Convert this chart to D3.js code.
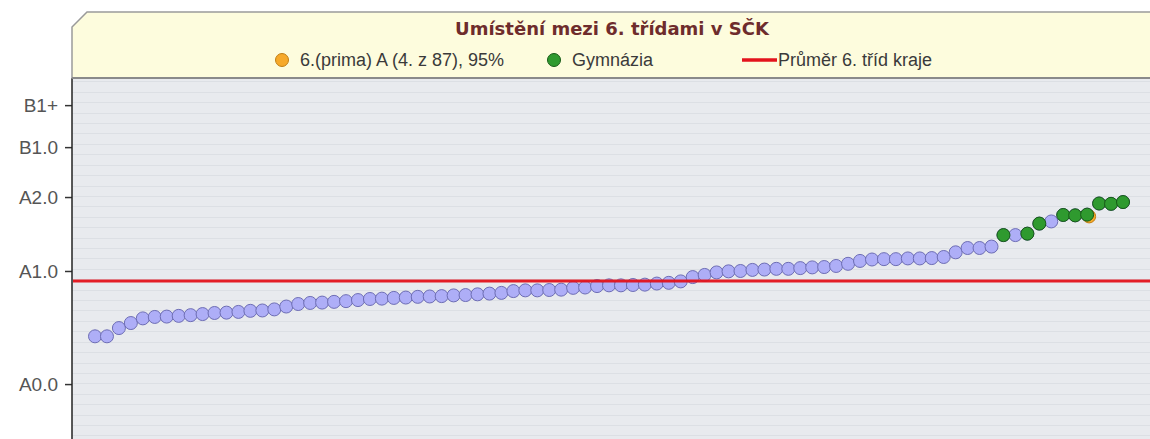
<!DOCTYPE html>
<html>
<head>
<meta charset="utf-8">
<script src="https://cdn.jsdelivr.net/npm/d3@7"></script>
<style>
  body { margin: 0; background: #fff; }
  svg { display: block; font-family: "Liberation Sans", Arial, sans-serif; }
</style>
</head>
<body>
<svg id="chart"></svg>
<script>
// scores of all 87 classes, sorted ascending (rank 87 .. 1)
var classScores = [
  28.6, 28.6, 30.9, 32.3, 33.6, 34.0, 34.1, 34.3, 34.5, 34.8,
  35.1, 35.2, 35.4, 35.7, 35.8, 36.1, 36.9, 37.6, 37.9, 38.0,
  38.2, 38.4, 38.7, 39.0, 39.1, 39.3, 39.4, 39.6, 39.7, 39.8,
  40.0, 40.1, 40.3, 40.5, 40.7, 41.2, 41.4, 41.4, 41.5, 41.6,
  42.1, 42.2, 42.6, 42.8, 42.8, 42.9, 43.0, 43.3, 43.5, 43.9,
  45.1, 45.7, 46.4, 46.7, 46.8, 47.1, 47.2, 47.4, 47.4, 47.6,
  47.8, 47.9, 48.2, 48.8, 49.6, 50.0, 50.1, 50.1, 50.3, 50.3,
  50.4, 50.7, 52.0, 53.2, 53.2, 53.6, 56.8, 56.8, 57.2, 60.0,
  60.6, 62.4, 62.3, 62.5, 65.6, 65.5, 66.0
];

// positions (in sorted order) of classes that are gymnázia
var gymIndex = [76, 78, 79, 81, 82, 83, 84, 85, 86];

// own class: 6.(prima) A, 4th of 87
var ownClass = { index: 83, score: 62.0 };

var regionAverage = 44.0;

var tickValues = [15.3, 46.8, 67.4, 81.3, 93.0];
var tickLabels = ["A0.0", "A1.0", "A2.0", "B1.0", "B1+"];

var titleText = "Umístění mezi 6. třídami v SČK";
var legendLabels = ["6.(prima) A (4. z 87), 95%", "Gymnázia", "Průměr 6. tříd kraje"];

var width = 1150, height = 439;
var plot = { left: 72, right: 1150, top: 78, bottom: 439 };

var lavender = "#aeaef7", lavenderStroke = "#6d6db4";
var green = "#2f9a2f", greenStroke = "#175a17";
var orange = "#f6a92a", orangeStroke = "#c07e14";
var red = "#e3131c";

var svg = d3.select("#chart").attr("width", width).attr("height", height);

var x = d3.scaleLinear()
  .domain([0, classScores.length - 1])
  .range([95, 1123]);

var y = d3.scaleLinear()
  .domain([0, 100])
  .range([plot.bottom, plot.top + 2]);

// plot background
svg.append("rect")
  .attr("x", plot.left)
  .attr("y", plot.top)
  .attr("width", plot.right - plot.left)
  .attr("height", plot.bottom - plot.top)
  .attr("fill", "#e8eaee");

// faint grid
var gridVals = d3.range(1, 100, 2.9);
svg.append("g")
  .selectAll("line")
  .data(gridVals)
  .enter()
  .append("line")
  .attr("x1", plot.left)
  .attr("x2", plot.right)
  .attr("y1", (d) => Math.round(y(d)) + 0.5)
  .attr("y2", (d) => Math.round(y(d)) + 0.5)
  .attr("stroke", "#dcdfe4")
  .attr("stroke-width", 1);

// y axis
var yAxis = d3.axisLeft(y)
  .tickValues(tickValues)
  .tickFormat((d, i) => tickLabels[i])
  .tickSize(7)
  .tickPadding(7);

var axisG = svg.append("g")
  .attr("transform", "translate(" + plot.left + ",0)")
  .call(yAxis);
axisG.select(".domain").remove();
axisG.selectAll(".tick line").attr("stroke", "#333").attr("stroke-width", 1.5);
axisG.selectAll(".tick text")
  .attr("fill", "#555")
  .style("font-size", "19px")
  .style("font-family", "Liberation Sans, Arial, sans-serif");
svg.append("line")
  .attr("x1", plot.left).attr("x2", plot.left)
  .attr("y1", plot.top).attr("y2", plot.bottom)
  .attr("stroke", "#222").attr("stroke-width", 1.5);

// all classes
svg.append("g")
  .selectAll("circle")
  .data(classScores)
  .enter()
  .append("circle")
  .attr("cx", (d, i) => x(i))
  .attr("cy", (d) => y(d))
  .attr("r", 6.5)
  .attr("fill", lavender)
  .attr("stroke", lavenderStroke)
  .attr("stroke-width", 1);

// own class
svg.append("circle")
  .attr("cx", x(ownClass.index) + 2)
  .attr("cy", y(ownClass.score))
  .attr("r", 6.5)
  .attr("fill", orange)
  .attr("stroke", orangeStroke)
  .attr("stroke-width", 1);

// gymnázia
svg.append("g")
  .selectAll("circle")
  .data(gymIndex)
  .enter()
  .append("circle")
  .attr("cx", (d) => x(d))
  .attr("cy", (d) => y(classScores[d]))
  .attr("r", 6.5)
  .attr("fill", green)
  .attr("stroke", greenStroke)
  .attr("stroke-width", 1);

// region average
svg.append("line")
  .attr("x1", plot.left + 1)
  .attr("x2", plot.right)
  .attr("y1", y(regionAverage))
  .attr("y2", y(regionAverage))
  .attr("stroke", red)
  .attr("stroke-width", 3)
  .attr("opacity", 0.95);

// header / legend box with bevelled corner
var box = { x0: 72, x1: 1152, y0: 12, y1: 78, cut: 15 };
svg.append("path")
  .attr("d", "M" + box.x0 + "," + box.y1 +
    " L" + box.x0 + "," + (box.y0 + box.cut) +
    " L" + (box.x0 + box.cut) + "," + box.y0 +
    " L" + box.x1 + "," + box.y0 +
    " L" + box.x1 + "," + box.y1 + " Z")
  .attr("fill", "#fdfcdd")
  .attr("stroke", "#9a9a9a")
  .attr("stroke-width", 1.5);
svg.append("line")
  .attr("x1", box.x0).attr("x2", box.x1)
  .attr("y1", box.y1).attr("y2", box.y1)
  .attr("stroke", "#8a8a8a").attr("stroke-width", 2);

svg.append("text")
  .attr("x", 612)
  .attr("y", 35)
  .attr("text-anchor", "middle")
  .attr("fill", "#6e2c2c")
  .style("font-family", "DejaVu Sans, Verdana, sans-serif")
  .style("font-size", "18px")
  .style("font-weight", "bold")
  .text(titleText);

var legendY = 60;
var lg = svg.append("g").style("font-size", "18px").attr("fill", "#3a3a3a");

lg.append("circle").attr("cx", 282).attr("cy", legendY).attr("r", 6.5)
  .attr("fill", orange).attr("stroke", orangeStroke);
lg.append("text").attr("x", 300).attr("y", legendY + 6).text(legendLabels[0]);

lg.append("circle").attr("cx", 554).attr("cy", legendY).attr("r", 6.5)
  .attr("fill", green).attr("stroke", greenStroke);
lg.append("text").attr("x", 572).attr("y", legendY + 6).text(legendLabels[1]);

lg.append("line").attr("x1", 742).attr("x2", 777)
  .attr("y1", legendY).attr("y2", legendY)
  .attr("stroke", red).attr("stroke-width", 3.5);
lg.append("text").attr("x", 778).attr("y", legendY + 6).text(legendLabels[2]);
</script>
</body>
</html>
